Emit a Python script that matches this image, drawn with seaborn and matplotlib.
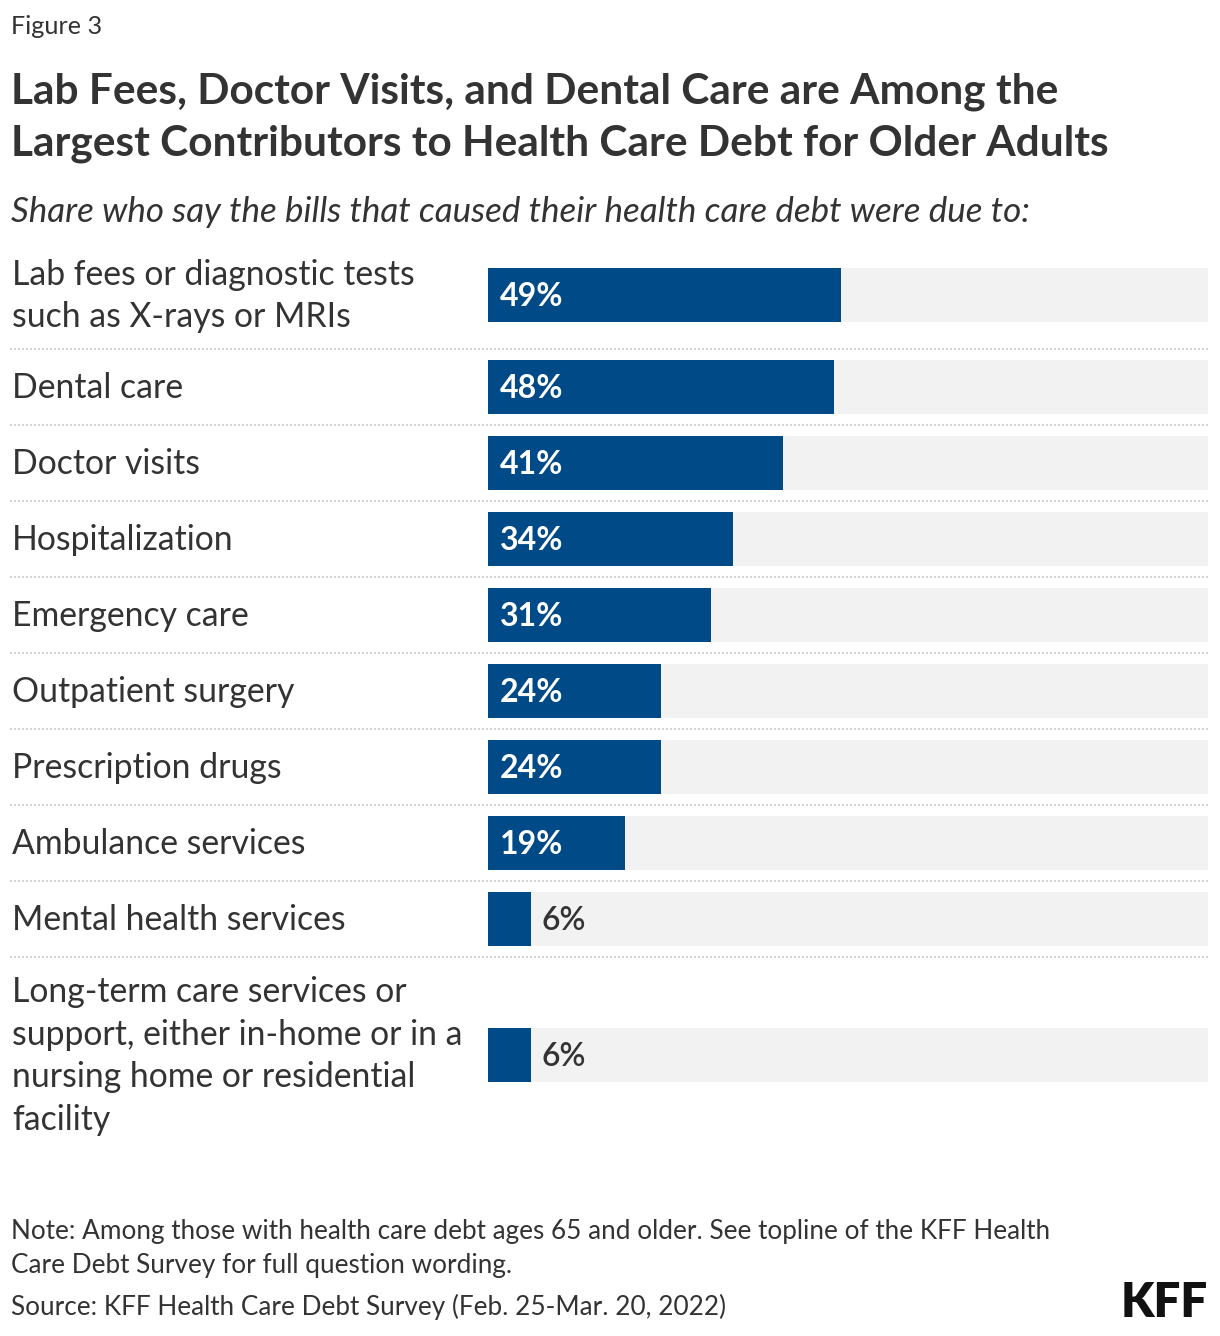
import matplotlib
matplotlib.use("Agg")
import matplotlib.pyplot as plt
import seaborn as sns
import pandas as pd
from matplotlib.lines import Line2D

categories = [
    "Lab fees or diagnostic tests\nsuch as X-rays or MRIs",
    "Dental care",
    "Doctor visits",
    "Hospitalization",
    "Emergency care",
    "Outpatient surgery",
    "Prescription drugs",
    "Ambulance services",
    "Mental health services",
    "Long-term care services or\nsupport, either in-home or in a\nnursing home or residential\nfacility",
]
values = [49, 48, 41, 34, 31, 24, 24, 19, 6, 6]
value_labels = ["49%", "48%", "41%", "34%", "31%", "24%", "24%", "19%", "6%", "6%"]

# layout (pixel rows of bar centres / separators)
row_centers = [295, 387, 463, 539, 615, 691, 767, 843, 919, 1055]
separators = [349, 425, 501, 577, 653, 729, 805, 881, 957]

W, H = 1220, 1336
sns.set_theme(style="white")
plt.rcParams["font.family"] = ["Lato", "DejaVu Sans"]
TXT = "#333333"
BLUE = "#004A87"
TRACK = "#F2F2F2"

fig = plt.figure(figsize=(W / 100, H / 100), dpi=100)
top_px, bot_px = 250, 1150
ax = fig.add_axes([488 / W, 1 - bot_px / H, 720 / W, (bot_px - top_px) / H])

df = pd.DataFrame({"cat": categories, "value": values, "pos": row_centers,
                   "full": [100] * len(values)})
bw = 54 / 76
sns.barplot(data=df, x="full", y="pos", orient="h", native_scale=True,
            color=TRACK, saturation=1, width=bw, ax=ax, linewidth=0)
sns.barplot(data=df, x="value", y="pos", orient="h", native_scale=True,
            color=BLUE, saturation=1, width=bw, ax=ax, linewidth=0)
ax.set_xlim(0, 100)
ax.set_ylim(bot_px, top_px)
ax.axis("off")

def fy(py):
    return 1 - py / H

def fx(px):
    return px / W

# value labels
for v, lab, c in zip(values, value_labels, row_centers):
    if v >= 10:
        ax.text(12 / 7.2, c + 2, lab, color="white", fontsize=23, fontweight="bold",
                va="center", ha="left")
    else:
        ax.text(v + 10 / 7.2, c + 2, lab, color=TXT, fontsize=23, fontweight="semibold",
                va="center", ha="left")

# category labels
for cat, c in zip(categories, row_centers):
    fig.text(fx(12), fy(c + 1), cat, fontsize=24.3, color=TXT, va="center", ha="left",
             linespacing=1.42)

# separators
for s in separators:
    fig.add_artist(Line2D([fx(10), fx(1208)], [fy(s), fy(s)], color="#CCCCCC",
                          lw=1.2, linestyle=(0, (1.2, 1.2))))

# titles
fig.text(fx(11), fy(27), "Figure 3", fontsize=18.2, color=TXT, va="center", ha="left")
fig.text(fx(11), fy(92), "Lab Fees, Doctor Visits, and Dental Care are Among the",
         fontsize=30.5, fontweight="bold", color=TXT, va="center", ha="left")
fig.text(fx(11), fy(144), "Largest Contributors to Health Care Debt for Older Adults",
         fontsize=30.5, fontweight="bold", color=TXT, va="center", ha="left")
fig.text(fx(11), fy(212), "Share who say the bills that caused their health care debt were due to:",
         fontsize=25.2, fontstyle="italic", color=TXT, va="center", ha="left")

# notes
fig.text(fx(11), fy(1231), "Note: Among those with health care debt ages 65 and older. See topline of the KFF Health",
         fontsize=18.8, color=TXT, va="center", ha="left")
fig.text(fx(11), fy(1265), "Care Debt Survey for full question wording.",
         fontsize=18.8, color=TXT, va="center", ha="left")
fig.text(fx(11), fy(1307), "Source: KFF Health Care Debt Survey (Feb. 25-Mar. 20, 2022)",
         fontsize=18.8, color=TXT, va="center", ha="left")
fig.text(fx(1208), fy(1303), "KFF", fontsize=34, fontweight="heavy", color="#111111",
         va="center", ha="right")

fig.savefig("out.png", dpi=100, facecolor="white")
